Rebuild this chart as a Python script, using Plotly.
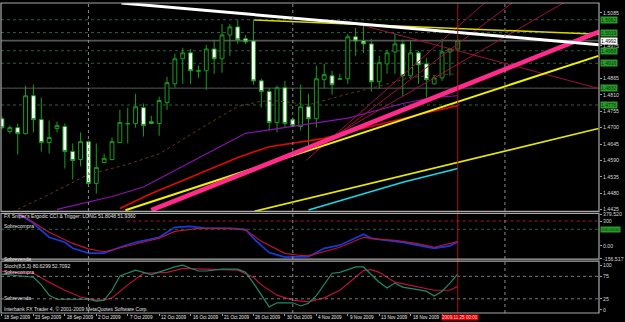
import plotly.graph_objects as go
import pandas as pd

# ---------------- data ----------------
all_days = pd.date_range("2009-09-18", "2009-11-25", freq="D")
bar_dates = [d for d in all_days if d.weekday() != 5]   # daily bars incl. Sunday
n_bars = len(bar_dates)
bar_idx = list(range(n_bars))

opens = [1.4730, 1.4687, 1.4700, 1.4680, 1.4807, 1.4727, 1.4650, 1.4697, 1.4704, 1.4620,
         1.4593, 1.4653, 1.4513, 1.4583, 1.4593, 1.4650, 1.4712, 1.4714, 1.4767, 1.4720,
         1.4714, 1.4784, 1.4847, 1.4931, 1.4951, 1.4889, 1.4891, 1.4964, 1.4931, 1.5011,
         1.5038, 1.4998, 1.4991, 1.4857, 1.4821, 1.4717, 1.4834, 1.4727, 1.4704, 1.4770,
         1.4730, 1.4861, 1.4874, 1.4862, 1.4864, 1.5005, 1.4991, 1.4981, 1.4854, 1.4914,
         1.4954, 1.4981, 1.4874, 1.4951, 1.4914, 1.4847, 1.4867, 1.4954, 1.4964]
highs = [1.4737, 1.4707, 1.4714, 1.4841, 1.4844, 1.4801, 1.4724, 1.4720, 1.4714, 1.4647,
         1.4684, 1.4657, 1.4647, 1.4613, 1.4667, 1.4760, 1.4767, 1.4814, 1.4781, 1.4740,
         1.4804, 1.4871, 1.4948, 1.4968, 1.4964, 1.4908, 1.4978, 1.4995, 1.5048, 1.5048,
         1.5061, 1.5011, 1.5061, 1.4864, 1.4834, 1.4841, 1.4857, 1.4734, 1.4844, 1.4814,
         1.4908, 1.4914, 1.4891, 1.4881, 1.5015, 1.5035, 1.5041, 1.4998, 1.4941, 1.4961,
         1.5015, 1.4995, 1.4991, 1.4958, 1.4934, 1.4874, 1.4998, 1.4968, 1.4998]
lows = [1.4694, 1.4680, 1.4610, 1.4677, 1.4684, 1.4620, 1.4613, 1.4684, 1.4563, 1.4526,
        1.4570, 1.4510, 1.4479, 1.4580, 1.4590, 1.4648, 1.4647, 1.4700, 1.4670, 1.4711,
        1.4673, 1.4760, 1.4834, 1.4847, 1.4847, 1.4867, 1.4827, 1.4881, 1.4884, 1.4941,
        1.4981, 1.4981, 1.4844, 1.4767, 1.4690, 1.4684, 1.4700, 1.4707, 1.4690, 1.4640,
        1.4700, 1.4831, 1.4811, 1.4861, 1.4847, 1.4941, 1.4951, 1.4821, 1.4831, 1.4881,
        1.4881, 1.4807, 1.4864, 1.4847, 1.4801, 1.4845, 1.4857, 1.4874, 1.4958]
closes = [1.4700, 1.4700, 1.4680, 1.4807, 1.4727, 1.4650, 1.4667, 1.4707, 1.4620, 1.4590,
          1.4653, 1.4513, 1.4566, 1.4597, 1.4653, 1.4717, 1.4714, 1.4770, 1.4707, 1.4714,
          1.4791, 1.4851, 1.4931, 1.4951, 1.4891, 1.4891, 1.4964, 1.4931, 1.5011, 1.5038,
          1.4995, 1.4988, 1.4857, 1.4821, 1.4717, 1.4834, 1.4714, 1.4707, 1.4770, 1.4730,
          1.4864, 1.4878, 1.4844, 1.4864, 1.5005, 1.4991, 1.4981, 1.4854, 1.4918, 1.4951,
          1.4981, 1.4874, 1.4951, 1.4911, 1.4861, 1.4867, 1.4954, 1.4964, 1.4992]

# moving averages (bar index, price)
ma_brown_idx = [2, 6, 11, 16, 20, 25, 30, 33, 35, 39, 44, 48, 52, 58]
ma_brown_val = [1.4426, 1.4476, 1.4543, 1.4577, 1.4612, 1.4693, 1.4771, 1.4789, 1.4790,
                1.4777, 1.4813, 1.4839, 1.4869, 1.4881]
ma_purple_idx = [7, 11, 14, 18, 22, 25, 31, 37, 44, 51, 55, 58]
ma_purple_val = [1.4426, 1.4450, 1.4469, 1.4501, 1.4555, 1.4598, 1.4681, 1.4705, 1.4732,
                 1.4781, 1.4802, 1.4807]
ma_red_idx = [15, 19, 23, 27, 30, 34, 37, 41, 45, 50, 54, 58]
ma_red_val = [1.4429, 1.4479, 1.4523, 1.4566, 1.4600, 1.4636, 1.4648, 1.4664, 1.4691,
              1.4725, 1.4750, 1.4774]
ma_cyan_idx = [39, 45, 51, 58]
ma_cyan_val = [1.4424, 1.4471, 1.4517, 1.4563]

# trend lines: ([idx0, idx1], [price0, price1])
tl_white = ([15.2, 76.0], [1.5118, 1.4978])
tl_yellow_top = ([32.1, 76.0], [1.5061, 1.5013])
tl_pink = ([19.0, 76.0], [1.4423, 1.5022])
tl_yellow_main = ([15.7, 75.9], [1.4423, 1.4941])
tl_yellow_low = ([32.1, 75.9], [1.4419, 1.4697])
tl_crimson_down = ([43.8, 76.0], [1.5058, 1.4831])
tl_fans = [([38.7, 61.4], [1.4590, 1.5118]),
           ([40.0, 64.9], [1.4623, 1.5118]),
           ([41.3, 71.4], [1.4657, 1.5118])]

# horizontal levels
green_levels = [1.5062, 1.5019, 1.4958, 1.4916, 1.4832, 1.4776]
bid_price = 1.4992
price_ticks = [1.5085, 1.4975, 1.4865, 1.4810, 1.4755, 1.4700, 1.4645, 1.4590, 1.4535, 1.4480, 1.4425]

# Ergodic CCI
cci_idx = [0, 2, 3, 4, 6, 8, 9, 11, 13, 15, 17, 20, 22, 24, 26, 29, 31, 32, 33, 34, 36, 38, 39,
           41, 43, 46, 47, 49, 51, 55, 57, 58]
cci_val = [440, 390, 332, 272, 104, 44, -28, -88, -88, -16, 44, 104, 224, 236, 212, 212, 200,
           90, 3, -80, -136, -136, -130, -28, 8, 140, 92, 68, 44, -28, 0, 51.8048]
trig_idx = [0, 2, 3, 6, 9, 11, 13, 15, 17, 20, 22, 25, 29, 31, 33, 36, 38, 39, 43, 46, 47, 48,
            50, 53, 55, 58]
trig_val = [470, 400, 344, 164, 30, -36, -70, -25, 25, 92, 175, 212, 212, 190, 55, -90, -115,
            -120, -16, 104, 90, 78, 68, 25, -16, 51.936]

# Stochastic
sto_idx = [0, 1, 4, 5, 6, 7, 11, 12, 13, 14, 15, 17, 19, 22, 23, 24, 25, 26, 28, 30, 31, 32, 33,
           34, 35, 37, 38, 39, 40, 41, 42, 43, 45, 46, 47, 48, 49, 50, 51, 53, 54, 55, 56, 57, 58]
sto_val = [80, 78, 73, 56, 33, 24, 24, 20, 22, 44, 76, 89, 79, 96, 100, 93, 87, 87, 91, 91, 84,
           60, 33, 7, 16, 16, 9, 15, 32, 58, 82, 84, 96, 96, 80, 62, 49, 60, 51, 44, 42, 31, 42,
           60, 80.6299]
sig_idx = [0, 1, 4, 6, 8, 10, 12, 13, 14, 16, 18, 21, 23, 26, 30, 32, 33, 35, 37, 39, 41, 43,
           45, 46, 47, 48, 50, 53, 55, 57, 58]
sig_val = [86, 84, 82, 62, 44, 29, 22, 22, 27, 56, 82, 84, 93, 91, 89, 73, 56, 33, 22, 18, 27,
           44, 73, 88, 90, 84, 62, 51, 44, 44, 52.7092]

# ---------------- layout helpers ----------------
W, H = 625, 322
ML, MR, MT, MB = 1, 19, 2, 9
PH = H - MT - MB


def py(pix):
    """pixel row -> paper fraction"""
    return (H - MB - pix) / PH


FONT = "Liberation Sans"
GREEN = "#1a9c1a"

fig = go.Figure()

fig.add_trace(go.Candlestick(
    x=bar_idx, open=opens, high=highs, low=lows, close=closes,
    increasing=dict(line=dict(color=GREEN, width=1), fillcolor="#000000"),
    decreasing=dict(line=dict(color=GREEN, width=1), fillcolor="#ffffff"),
    whiskerwidth=0, xaxis="x", yaxis="y", hoverinfo="skip"))


def add_line(xs, ys, color, width, yaxis="y", dash=None):
    fig.add_trace(go.Scatter(x=xs, y=ys, mode="lines", yaxis=yaxis, xaxis="x",
                             line=dict(color=color, width=width, dash=dash),
                             hoverinfo="skip"))


add_line(ma_brown_idx, ma_brown_val, "#6a3418", 1, dash="dot")
add_line(ma_purple_idx, ma_purple_val, "#8a12b0", 1.2)
add_line(ma_red_idx, ma_red_val, "#e00808", 1.6)
add_line(ma_cyan_idx, ma_cyan_val, "#16d8e8", 1.6)
for fx, fy in tl_fans:
    add_line(fx, fy, "#a0103c", 1)
add_line(*tl_crimson_down, "#a0103c", 1)
add_line(*tl_yellow_low, "#e8e800", 1.6)
add_line(*tl_yellow_main, "#f0f000", 2)
add_line(*tl_yellow_top, "#d8d800", 1.5)
add_line(*tl_pink, "#ff2a8a", 4.5)
add_line(*tl_white, "#ffffff", 3)

# CCI panel
add_line(cci_idx, cci_val, "#1838d8", 1.8, yaxis="y2")
add_line(trig_idx, trig_val, "#c0103a", 1.2, yaxis="y2")
# Stoch panel
add_line(sig_idx, sig_val, "#c0103a", 1.2, yaxis="y3")
add_line(sto_idx, sto_val, "#1f8a6a", 1.2, yaxis="y3")

dom_price = [py(211), 1.0]
dom_cci = [py(259), py(213)]
dom_sto = [0.0, py(261)]

shapes = []
# level lines in price panel
for lv in green_levels:
    shapes.append(dict(type="line", xref="paper", x0=0, x1=1, yref="y", y0=lv, y1=lv,
                       line=dict(color="#28603f", width=1, dash="dot"), layer="below"))
shapes.append(dict(type="line", xref="paper", x0=0, x1=1, yref="y", y0=bid_price, y1=bid_price,
                   line=dict(color="#555555", width=1.6), layer="below"))
shapes.append(dict(type="line", xref="paper", x0=0, x1=1, yref="y", y0=green_levels[4], y1=green_levels[4],
                   line=dict(color="#383838", width=1.6), layer="below"))
# CCI levels
shapes.append(dict(type="line", xref="paper", x0=0.21, x1=1, yref="y2", y0=300, y1=300,
                   line=dict(color="#b0103a", width=1, dash="dot")))
shapes.append(dict(type="line", xref="paper", x0=0, x1=1, yref="y2", y0=200, y1=200,
                   line=dict(color="#28603f", width=1, dash="dot")))
# stoch levels
for lv in (75, 25):
    shapes.append(dict(type="line", xref="paper", x0=0, x1=1, yref="y3", y0=lv, y1=lv,
                       line=dict(color="#7a7a7a", width=1, dash="dot")))
# month separators (future time counted by calendar day)
last = bar_dates[-1]
for m in ["2009-10-01", "2009-11-01", "2009-12-01"]:
    d = pd.Timestamp(m)
    if d <= last:
        pos = sum(1 for b in bar_dates if b < d)
    else:
        pos = n_bars - 1 + (d - last).days
    shapes.append(dict(type="line", xref="x", x0=pos, x1=pos, yref="paper", y0=0, y1=1,
                       line=dict(color="#8a8a8a", width=1, dash="dot")))
# current bar line
shapes.append(dict(type="line", xref="x", x0=n_bars - 1, x1=n_bars - 1, yref="paper", y0=0, y1=1,
                   line=dict(color="#b01020", width=1)))
# panel frames
for d0, d1 in (dom_price, dom_cci, dom_sto):
    shapes.append(dict(type="rect", xref="paper", x0=0, x1=1, yref="paper", y0=d0, y1=d1,
                       line=dict(color="#a8a8a8", width=1.2)))

ann = []


def txt(x, y, s, color="#e0e0e0", size=5, xref="paper", yref="paper", xanchor="left",
        yanchor="middle", bg=None, xshift=0):
    a = dict(x=x, y=y, xref=xref, yref=yref, text=s, showarrow=False, xanchor=xanchor,
             yanchor=yanchor, font=dict(family=FONT, size=size, color=color), xshift=xshift,
             borderpad=0)
    if bg:
        a["bgcolor"] = bg
    ann.append(a)


txt(0.004, py(216), "FX Sniper's Ergodic CCI & Trigger: LONG 51.8048 51.9360")
txt(0.004, py(226), "Sobrecompra")
txt(0.004, py(258.5), "Sobrevenda")
txt(0.004, py(265.5), "Stoch(8,5,3) 80.6299 52.7092")
txt(0.004, py(272), "Sobrecompra")
txt(0.004, py(297.5), "Sobrevenda")
txt(0.004, py(309), "Interbank FX Trader 4, \u00a9 2001-2009 MetaQuotes Software Corp.")

# date labels
for i in range(0, n_bars - 4, 4):
    d = bar_dates[i]
    txt(i, py(317.5), f"{d.day} {d.strftime('%b %Y')}", xref="x", color="#e8e8e8", xshift=1,
        size=4.6)
txt(n_bars - 1, py(317.5), last.strftime("%Y.%m.%d 00:00"), xref="x", xanchor="center",
    color="#ffd8d8", bg="#e00000", size=4.6, xshift=2)

# right-side boxes
for lv in green_levels:
    txt(1, lv, f"{lv:.4f}", yref="y", color="#063806", bg="#2a9a2a", xshift=1)
txt(1, bid_price, f"{bid_price:.4f}", yref="y", color="#000000", bg="#ffffff", xshift=1)
txt(1, 200, "200.0000", yref="y2", color="#063806", bg="#2a9a2a", xshift=1, size=4.4)

tickfont = dict(family=FONT, size=5.2, color="#d8d8d8")
fig.update_layout(
    width=W, height=H, margin=dict(l=ML, r=MR, t=MT, b=MB),
    paper_bgcolor="#000000", plot_bgcolor="#000000", showlegend=False,
    shapes=shapes, annotations=ann,
    xaxis=dict(range=[-0.126, 75.97], anchor="y3", showgrid=False, zeroline=False,
               showticklabels=False, ticks="outside", ticklen=2, tickcolor="#a0a0a0",
               tickvals=list(range(0, n_bars, 4)), rangeslider=dict(visible=False),
               fixedrange=True),
    yaxis=dict(domain=dom_price, range=[1.44192, 1.51183], side="right", anchor="x",
               showgrid=False, zeroline=False, tickvals=price_ticks,
               ticktext=[f"{v:.4f}" for v in price_ticks], ticks="outside", ticklen=2,
               tickcolor="#a0a0a0", tickfont=tickfont),
    yaxis2=dict(domain=dom_cci, range=[-159.6, 392.4], side="right", anchor="x",
                showgrid=False, zeroline=False, tickvals=[379.52, 300, 0, -156.517],
                ticktext=["379.520", "300", "0.00", "-156.517"], ticks="outside", ticklen=2,
                tickcolor="#a0a0a0", tickfont=tickfont),
    yaxis3=dict(domain=dom_sto, range=[-6.7, 108.9], side="right", anchor="x",
                showgrid=False, zeroline=False, tickvals=[100, 75, 25, 0],
                ticktext=["100", "75", "25", "0"], ticks="outside", ticklen=2,
                tickcolor="#a0a0a0", tickfont=tickfont),
)

fig.write_html("out.html")
